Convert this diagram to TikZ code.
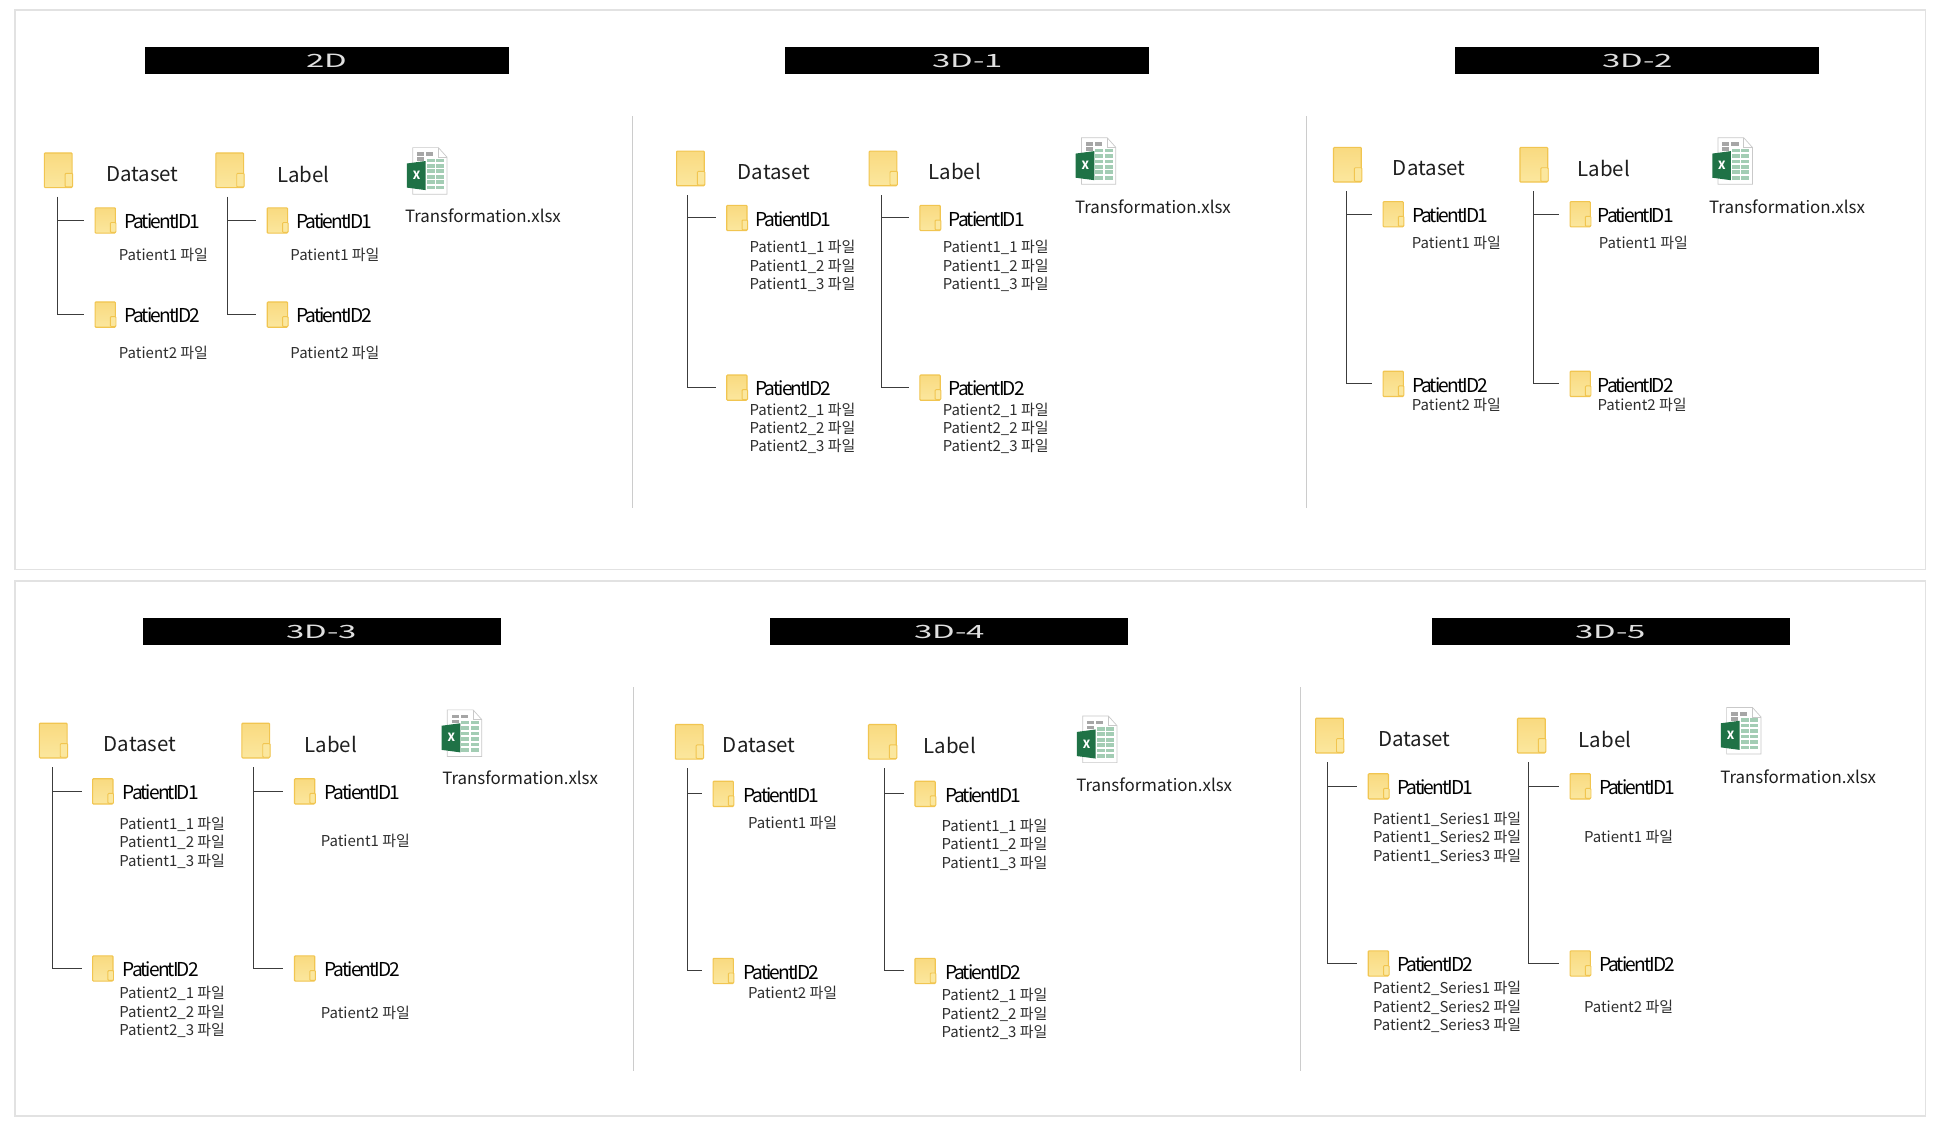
\documentclass[tikz,border=0pt]{standalone}
\usepackage{fontspec}
\setmainfont{Noto Sans CJK KR}
\usetikzlibrary{calc}
\definecolor{framegray}{HTML}{E2E2E2}
\definecolor{divgray}{HTML}{CCCCCC}
\definecolor{linegray}{HTML}{3C3C3C}
\definecolor{foldedge}{HTML}{F1C550}
\definecolor{foldtop}{HTML}{F9DA80}
\definecolor{foldbot}{HTML}{FBE79E}
\definecolor{xlgreen}{HTML}{1F7246}
\definecolor{xlcell}{HTML}{A3CDB4}
\definecolor{xlgrey}{HTML}{A6A6A6}
\definecolor{xledge}{HTML}{C9C9C9}
\tikzset{
  x=0.05cm, y=-0.05cm,
  frame/.style={draw=framegray,line width=1.6pt,fill=white},
  divider/.style={draw=divgray,line width=1.3pt},
  headbar/.style={fill=black,draw=none,inner sep=0pt,text=white!88!black,
     font=\fontsize{21}{21}\selectfont},
  bigf/.style={draw=foldedge,line width=1.3pt,top color=foldtop,bottom color=foldbot,
     rounded corners=1pt,minimum width=1.12cm,minimum height=1.4cm,inner sep=0pt},
  smallf/.style={draw=foldedge,line width=1.3pt,top color=foldtop,bottom color=foldbot,
     rounded corners=1pt,minimum width=0.82cm,minimum height=1.02cm,inner sep=0pt},
  ftab/.style={draw=foldedge,line width=1.1pt,fill=foldbot,rounded corners=1pt},
  title/.style={inner sep=0pt,yshift=-1.2pt,text=black!88,font=\fontsize{23.5}{25}\selectfont},
  pid/.style={anchor=west,inner sep=0pt,yshift=-1.2pt,text=black,
     font=\fontsize{22}{24}\selectfont\addfontfeature{LetterSpace=-10}},
  filelabel/.style={inner sep=0pt,yshift=-1.2pt,align=left,text=black!82,
     font=\fontsize{17.2}{21.2}\selectfont},
  xlname/.style={inner sep=0pt,yshift=-1.2pt,text=black!88,font=\fontsize{19.4}{21}\selectfont},
  conn/.style={draw=linegray,line width=1.1pt,shorten <=10pt,shorten >=12pt},
}
\newcommand\tdx{-1}
\newcommand\headstrip[5]{% name, x1, x2, y1, text
  \node[headbar,minimum width={(#3-#2)*0.05cm},minimum height=1.1cm,anchor=north west]
    (#1) at (#2,#4) {\raisebox{-0.8pt}{\scalebox{1.8}[1]{#5}}};}
\newcommand\folderbig[2]{% name, pos
  \node[bigf] (#1) at #2 {};
  \draw[ftab] ($(#1.south east)+(-6,-1)$) rectangle ($(#1.south east)+(0,-12)$);}
\newcommand\foldersmall[2]{%
  \node[smallf] (#1) at #2 {};
  \draw[ftab] ($(#1.south east)+(-4.5,-1)$) rectangle ($(#1.south east)+(0,-9)$);}
% name, big pos, title, title pos, small x, y1, y2, text x
\newcommand\treecol[8]{%
  \folderbig{#1}{#2}
  \node[title] (#1t) at #4 {#3};
  \foldersmall{#1a}{(#5,#6)}
  \foldersmall{#1b}{(#5,#7)}
  \node[pid] (#1at) at (#8,#6) {PatientID1};
  \node[pid] (#1bt) at (#8,#7) {PatientID2};
  \coordinate (#1r) at ($(#1.south)+(\tdx,0)$);
  \draw[conn] (#1r) |- (#1a.west);
  \draw[conn] (#1r) |- (#1b.west);}
\newcommand\filesat[3]{\node[filelabel] (#1) at #2 {#3};}
\newcommand\xlicon[3]{% name, icon pos, label pos
  \begin{scope}[shift={#2}]
    \fill[white,draw=xledge,line width=0.8pt] (-11.8,-18.8) -- (9,-18.8) -- (16,-11) -- (16,18.8) -- (-11.8,18.8) -- cycle;
    \draw[xledge,line width=0.8pt] (9,-18.8) -- (9,-11) -- (16,-11);
    \foreach \xa in {-8.3,-1} \fill[xlgrey] (\xa,-15) rectangle ++(5.8,3);
    \fill[xlgrey] (-8.3,-11) rectangle ++(5.8,3);
    \foreach \ya in {-10,-5.6,-1.2,3.2,7.6,12} {
      \fill[xlcell] (-0.5,\ya) rectangle ++(6.4,3);
      \fill[xlcell] (7,\ya) rectangle ++(6.4,3);}
    \fill[xlgreen] (-16.4,-6) -- (-1.3,-8) -- (-1.3,15.5) -- (-16.4,13.5) -- cycle;
    \node[inner sep=0pt,text=white,font=\fontsize{13}{13}\selectfont\bfseries] (#1x) at (-8.6,3.6) {X};
  \end{scope}
  \node[xlname] (#1) at #3 {Transformation.xlsx};}
\begin{document}
\begin{tikzpicture}
\useasboundingbox (0,0) rectangle (1567.3,908.4);
\fill[white] (0,0) rectangle (1567.3,908.4);
\draw[frame] (12,8) rectangle (1555,460);
\draw[frame] (12,469) rectangle (1555,901);
\coordinate (d1a) at (510.5,94); \coordinate (d1b) at (510.5,410);
\coordinate (d2a) at (1055,94);  \coordinate (d2b) at (1055,410);
\coordinate (d3a) at (511.5,555);\coordinate (d3b) at (511.5,865);
\coordinate (d4a) at (1050,555); \coordinate (d4b) at (1050,865);
\draw[divider] (d1a)--(d1b); \draw[divider] (d2a)--(d2b);
\draw[divider] (d3a)--(d3b); \draw[divider] (d4a)--(d4b);

% 2D
\headstrip{h1}{117}{411}{38}{2D}
\renewcommand\tdx{-0.5}
\treecol{aD}{(47,137.5)}{Dataset}{(115,140)}{85}{178}{254}{100}
\renewcommand\tdx{-1.5}
\treecol{aL}{(185.5,137.5)}{Label}{(245,140)}{224}{178}{254}{239}
\filesat{af1}{(132,205)}{Patient1 파일}
\filesat{af2}{(132,284)}{Patient2 파일}
\filesat{af3}{(270.5,205)}{Patient1 파일}
\filesat{af4}{(270.5,284)}{Patient2 파일}
\xlicon{ax}{(345,138)}{(390,173)}

% 3D-1
\headstrip{h2}{634}{928}{38}{3D-1}
\renewcommand\tdx{-2}
\treecol{bD}{(557.5,136)}{Dataset}{(625,138)}{595}{176}{313}{610}
\renewcommand\tdx{-1}
\treecol{bL}{(713,136)}{Label}{(771,138)}{751}{176}{313}{766}
\filesat{bf1}{(648,214)}{Patient1\_1 파일\\Patient1\_2 파일\\Patient1\_3 파일}
\filesat{bf2}{(648,345)}{Patient2\_1 파일\\Patient2\_2 파일\\Patient2\_3 파일}
\filesat{bf3}{(804,214)}{Patient1\_1 파일\\Patient1\_2 파일\\Patient1\_3 파일}
\filesat{bf4}{(804,345)}{Patient2\_1 파일\\Patient2\_2 파일\\Patient2\_3 파일}
\xlicon{bx}{(885,130)}{(931,166)}

% 3D-2
\headstrip{h3}{1175}{1469}{38}{3D-2}
\renewcommand\tdx{-1}
\treecol{cD}{(1088,133)}{Dataset}{(1154,135)}{1125}{173}{310}{1140}
\renewcommand\tdx{-0.5}
\treecol{cL}{(1238.5,133)}{Label}{(1295,135)}{1276}{173}{310}{1290}
\filesat{cf1}{(1176,195)}{Patient1 파일}
\filesat{cf2}{(1176,326)}{Patient2 파일}
\filesat{cf3}{(1327,195)}{Patient1 파일}
\filesat{cf4}{(1326,326)}{Patient2 파일}
\xlicon{cx}{(1399,130)}{(1443,166)}

% 3D-3
\headstrip{h4}{115}{404}{499}{3D-3}
\renewcommand\tdx{-1}
\treecol{dD}{(43,598)}{Dataset}{(113,600)}{83}{639}{782}{99}
\renewcommand\tdx{-1.5}
\treecol{dL}{(206.5,598)}{Label}{(267,600)}{246}{639}{782}{262}
\filesat{df1}{(139,679.5)}{Patient1\_1 파일\\Patient1\_2 파일\\Patient1\_3 파일}
\filesat{df2}{(139,816.5)}{Patient2\_1 파일\\Patient2\_2 파일\\Patient2\_3 파일}
\filesat{df3}{(295,678)}{Patient1 파일}
\filesat{df4}{(295,817)}{Patient2 파일}
\xlicon{dx}{(373,592)}{(420,627)}

% 3D-4
\headstrip{h5}{622}{911}{499}{3D-4}
\renewcommand\tdx{-1.5}
\treecol{eD}{(556.5,599)}{Dataset}{(613,601)}{584}{641}{784}{600}
\renewcommand\tdx{1.5}
\treecol{eL}{(712.5,599)}{Label}{(767,601)}{747}{641}{784}{763}
\filesat{ef1}{(640,664)}{Patient1 파일}
\filesat{ef2}{(640,801)}{Patient2 파일}
\filesat{ef3}{(803,681)}{Patient1\_1 파일\\Patient1\_2 파일\\Patient1\_3 파일}
\filesat{ef4}{(803,818)}{Patient2\_1 파일\\Patient2\_2 파일\\Patient2\_3 파일}
\xlicon{ex}{(886,597)}{(932,633)}

% 3D-5
\headstrip{h6}{1156}{1445}{499}{3D-5}
\renewcommand\tdx{-1.5}
\treecol{fD}{(1073.5,594)}{Dataset}{(1142,596)}{1113}{635}{778}{1128}
\renewcommand\tdx{-2.5}
\treecol{fL}{(1236.5,594)}{Label}{(1296,596)}{1276}{635}{778}{1291}
\filesat{ff1}{(1168.5,675.5)}{Patient1\_Series1 파일\\Patient1\_Series2 파일\\Patient1\_Series3 파일}
\filesat{ff2}{(1168.5,812.5)}{Patient2\_Series1 파일\\Patient2\_Series2 파일\\Patient2\_Series3 파일}
\filesat{ff3}{(1315,675)}{Patient1 파일}
\filesat{ff4}{(1315,812)}{Patient2 파일}
\xlicon{fx}{(1406,590)}{(1452,626)}
\end{tikzpicture}
\end{document}
